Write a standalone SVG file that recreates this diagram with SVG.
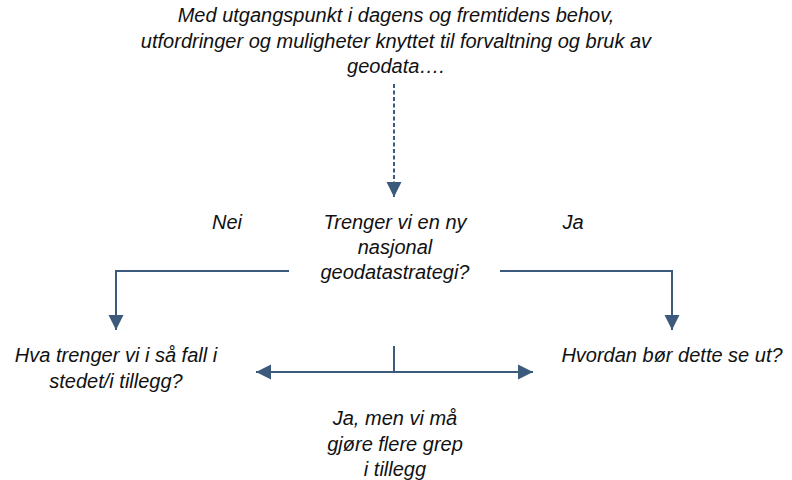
<svg xmlns="http://www.w3.org/2000/svg" width="792" height="480" viewBox="0 0 792 480">
  <style>
    text { font-family: "Liberation Sans", Arial, sans-serif; font-style: italic; font-size: 20px; fill: #111111; text-anchor: middle; }
    .conn { fill: none; stroke: #3b5a7c; stroke-width: 2; }
    .dash { stroke-dasharray: 4 2.5; }
  </style>
  <defs>
    <marker id="arrow" markerUnits="userSpaceOnUse" markerWidth="16" markerHeight="16" viewBox="0 0 16 16" refX="15" refY="8" orient="auto">
      <path d="M0,0.5 L15,8 L0,15.5 Z" fill="#3b5a7c"/>
    </marker>
  </defs>
  <rect width="792" height="480" fill="#ffffff"/>

  <g id="connectors">
    <line class="conn dash" x1="394" y1="84" x2="394" y2="197" marker-end="url(#arrow)"/>
    <polyline class="conn" points="289,271 116,271 116,330" marker-end="url(#arrow)"/>
    <polyline class="conn" points="500,271 672,271 672,330" marker-end="url(#arrow)"/>
    <line class="conn" x1="394" y1="346" x2="394" y2="372"/>
    <line class="conn" x1="394" y1="372" x2="256" y2="372" marker-end="url(#arrow)"/>
    <line class="conn" x1="394" y1="372" x2="533" y2="372" marker-end="url(#arrow)"/>
  </g>

  <g id="intro">
    <text x="396" y="22">Med utgangspunkt i dagens og fremtidens behov,</text>
    <text x="396" y="47.5">utfordringer og muligheter knyttet til forvaltning og bruk av</text>
    <text x="396" y="73">geodata….</text>
  </g>

  <g id="question">
    <text x="395" y="229">Trenger vi en ny</text>
    <text x="395" y="254">nasjonal</text>
    <text x="395" y="279">geodatastrategi?</text>
  </g>

  <g id="label-nei">
    <text x="227" y="229">Nei</text>
  </g>

  <g id="label-ja">
    <text x="573" y="229">Ja</text>
  </g>

  <g id="result-nei">
    <text x="116" y="362">Hva trenger vi i så fall i</text>
    <text x="116" y="387.5">stedet/i tillegg?</text>
  </g>

  <g id="result-ja">
    <text x="672" y="362">Hvordan bør dette se ut?</text>
  </g>

  <g id="result-ja-men">
    <text x="395" y="425">Ja, men vi må</text>
    <text x="395" y="450.5">gjøre flere grep</text>
    <text x="395" y="476">i tillegg</text>
  </g>
</svg>
